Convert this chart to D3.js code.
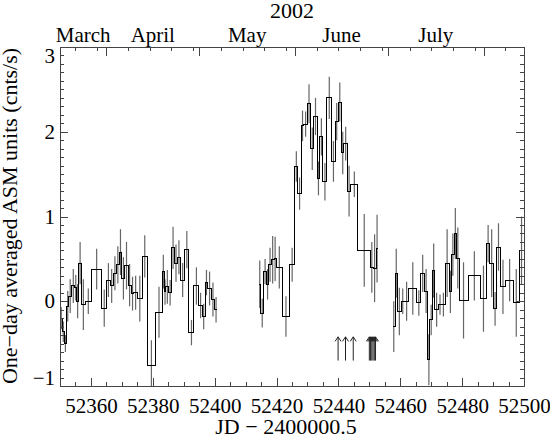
<!DOCTYPE html>
<html>
<head>
<meta charset="utf-8">
<script src="https://cdn.jsdelivr.net/npm/d3@7"></script>
<style>
  body { margin: 0; background: #fff; }
  text { font-family: "Liberation Serif", "DejaVu Serif", serif; fill: #000; }
</style>
</head>
<body>
<div class="root"></div>
<script>
// one-day averaged ASM rate, drawn as steps: bin edges (MJD), rate, 1-sigma error
var seg1Edges = [52350.0, 52350.8, 52351.3, 52352.2, 52352.8, 52353.8, 52354.8, 52355.4, 52356.0, 52357.0,
  52358.1, 52360.2, 52363.5, 52365.1, 52366.2, 52367.2, 52368.3, 52369.1, 52370.0, 52371.0, 52372.0,
  52373.0, 52373.9, 52375.0, 52376.6, 52378.2, 52380.9, 52383.1, 52383.7, 52384.2, 52385.2, 52386.0,
  52387.1, 52387.9, 52389.0, 52390.3, 52391.7, 52393.3, 52394.9, 52396.0, 52396.9, 52397.8, 52398.9,
  52400.0, 52400.9];
var seg1Rate = [-0.20, -0.36, -0.50, -0.06, 0.06, 0.18, 0.16, 0.00, 0.45, -0.04, 0.00, 0.38, -0.08, 0.25,
  0.18, 0.33, 0.43, 0.58, 0.27, 0.42, 0.19, 0.09, 0.10, 0.03, 0.53, -0.76, -0.13, 0.35, 0.11, 0.17, 0.10,
  0.63, 0.45, 0.52, 0.25, 0.61, -0.37, 0.18, -0.05, -0.18, 0.22, 0.15, 0.02, -0.10];
var seg1Err = [0.13, 0.12, 0.10, 0.18, 0.20, 0.20, 0.15, 0.20, 0.25, 0.30, 0.15, 0.24, 0.22, 0.20, 0.20,
  0.20, 0.22, 0.27, 0.25, 0.28, 0.25, 0.20, 0.20, 0.27, 0.25, 0.30, 0.30, 0.20, 0.15, 0.20, 0.15, 0.25,
  0.22, 0.20, 0.20, 0.22, 0.15, 0.22, 0.15, 0.15, 0.15, 0.20, 0.20, 0.15];

var seg2Edges = [52414.3, 52414.85, 52415.9, 52416.7, 52417.5, 52418.3, 52419.2, 52419.9, 52421.9, 52424.2,
  52425.9, 52426.9, 52428.0, 52428.8, 52430.0, 52431.0, 52432.1, 52433.1, 52434.0, 52435.0, 52436.3,
  52437.8, 52439.0, 52439.9, 52441.0, 52441.8, 52442.9, 52444.0, 52446.3, 52450.4, 52451.2, 52452.2,
  52452.8];
var seg2Rate = [0.20, -0.14, 0.35, 0.20, 0.43, 0.49, 0.50, 0.40, -0.18, 0.43, 1.59, 1.27, 2.07, 2.09, 2.33,
  1.80, 2.18, 1.45, 1.94, 1.41, 2.40, 1.65, 2.12, 2.35, 1.75, 1.86, 1.30, 1.38, 0.60, 0.40, 0.39, 0.62];
var seg2Err = [0.28, 0.17, 0.15, 0.18, 0.20, 0.28, 0.26, 0.25, 0.24, 0.20, 0.18, 0.19, 0.18, 0.15, 0.23,
  0.25, 0.22, 0.20, 0.22, 0.22, 0.25, 0.24, 0.22, 0.23, 0.25, 0.20, 0.30, 0.15, 0.43, 0.30, 0.40, 0.40];

var seg3Edges = [52457.5, 52458.3, 52459.1, 52460.3, 52461.3, 52462.8, 52465.3, 52466.7, 52467.8, 52468.9,
  52469.6, 52470.4, 52471.2, 52472.3, 52473.4, 52474.5, 52475.8, 52476.6, 52477.4, 52478.2, 52479.0,
  52481.9, 52486.0, 52487.8, 52489.0, 52490.1, 52491.2, 52492.3, 52494.1, 52496.6, 52498.4, 52500.0];
var seg3Rate = [-0.30, 0.33, -0.12, 0.00, 0.00, 0.15, -0.02, 0.33, 0.12, -0.69, -0.22, 0.36, -0.10, -0.04,
  -0.04, 0.45, 0.11, 0.55, 0.80, 0.51, 0.01, 0.30, 0.03, 0.68, 0.45, -0.09, 0.64, 0.17, 0.25, -0.02, 0.60];
var seg3Err = [0.30, 0.29, 0.28, 0.15, 0.23, 0.31, 0.15, 0.22, 0.26, 0.30, 0.18, 0.32, 0.20, 0.12, 0.14,
  0.40, 0.25, 0.25, 0.30, 0.36, 0.45, 0.29, 0.39, 0.22, 0.40, 0.20, 0.28, 0.32, 0.25, 0.40, 0.40];

// times marked with arrows below the light curve
var arrowTimes = [52439.9, 52442.3, 52444.8, 52450.0, 52450.4, 52450.8, 52451.2, 52451.6, 52452.0];
var arrowTip = -0.42, arrowBase = -0.70;

var xDomain = [52350, 52500];
var yDomain = [-1, 3];
var xMajorTicks = [52360, 52380, 52400, 52420, 52440, 52460, 52480, 52500];
var yMajorTicks = [-1, 0, 1, 2, 3];
var monthNames = ['March', 'April', 'May', 'June', 'July'];
var monthIndex = [2, 3, 4, 5, 6];
var year = 2002;

function runChart() {
  var w = 550, h = 436;
  var left = 60, right = 524, top = 47, bottom = 386;

  var svg = d3.select('.root').append('svg')
    .attr('width', w)
    .attr('height', h);

  var x = d3.scaleLinear().domain(xDomain).range([left, right]);
  var y = d3.scaleLinear().domain(yDomain).range([bottom, top]);

  // MJD -> calendar date for the month axis on top
  var mjdZero = Date.UTC(1858, 10, 17);
  function mjdDate(m) { return new Date(mjdZero + m * 864e5); }
  var xt = d3.scaleUtc().domain(xDomain.map(mjdDate)).range([left, right]);

  svg.append('defs').append('clipPath').attr('id', 'plotclip')
    .append('rect')
      .attr('x', left).attr('y', top)
      .attr('width', right - left).attr('height', bottom - top);

  var plot = svg.append('g').attr('clip-path', 'url(#plotclip)');

  var segs = [
    {edges: seg1Edges, rate: seg1Rate, err: seg1Err},
    {edges: seg2Edges, rate: seg2Rate, err: seg2Err},
    {edges: seg3Edges, rate: seg3Rate, err: seg3Err}
  ];

  var step = d3.line()
    .x(function(d) { return x(d[0]); })
    .y(function(d) { return y(d[1]); })
    .curve(d3.curveStepAfter);

  segs.forEach(function(s) {
    var pts = s.rate.map(function(v, i) { return [s.edges[i], v]; });
    pts.push([s.edges[s.edges.length - 1], s.rate[s.rate.length - 1]]);

    var bars = s.rate.map(function(v, i) {
      return {t: (s.edges[i] + s.edges[i + 1]) / 2, v: v, e: s.err[i]};
    });

    plot.append('g').selectAll('line')
      .data(bars)
      .enter().append('line')
        .attr('x1', function(d) { return x(d.t); })
        .attr('x2', function(d) { return x(d.t); })
        .attr('y1', function(d) { return y(d.v - d.e); })
        .attr('y2', function(d) { return y(d.v + d.e); })
        .style('stroke', '#666')
        .style('stroke-width', 1.2);

    plot.append('path')
      .attr('d', step(pts))
      .style('fill', 'none')
      .style('stroke', '#000')
      .style('stroke-width', 1)
      .style('shape-rendering', 'crispEdges');
  });

  // arrows
  var arrows = plot.append('g').selectAll('g')
    .data(arrowTimes)
    .enter().append('g');
  arrows.append('line')
    .attr('x1', function(d) { return x(d); })
    .attr('x2', function(d) { return x(d); })
    .attr('y1', y(arrowBase))
    .attr('y2', y(arrowTip))
    .style('stroke', '#222');
  arrows.append('path')
    .attr('d', function(d) {
      var xa = x(d), ya = y(arrowTip);
      return 'M' + (xa - 3) + ',' + (ya + 4.5) + 'L' + xa + ',' + ya + 'L' + (xa + 3) + ',' + (ya + 4.5);
    })
    .style('fill', 'none')
    .style('stroke', '#222');

  // frame
  svg.append('rect')
    .attr('x', left).attr('y', top)
    .attr('width', right - left).attr('height', bottom - top)
    .style('fill', 'none')
    .style('stroke', '#444')
    .style('shape-rendering', 'crispEdges');

  function styleAxis(g) {
    g.select('.domain').remove();
    g.selectAll('line').style('stroke', '#444').style('shape-rendering', 'crispEdges');
    g.selectAll('text').style('font-family', '"Liberation Serif", serif').style('font-size', '21px').attr('fill', '#000');
  }

  // bottom axis: major (labelled) every 20 days, minor every 5
  svg.append('g')
    .attr('transform', 'translate(0,' + bottom + ')')
    .call(d3.axisBottom(x).tickValues(d3.range(xDomain[0], xDomain[1] + 1, 5))
      .tickSize(-4).tickFormat(''))
    .call(styleAxis);
  svg.append('g')
    .attr('transform', 'translate(0,' + bottom + ')')
    .call(d3.axisBottom(x).tickValues(xMajorTicks).tickSize(-8).tickPadding(12)
      .tickFormat(d3.format('d')))
    .call(styleAxis);

  // left / right axes: major at integers, minor every 0.1
  var yMinor = d3.range(yDomain[0] * 10, yDomain[1] * 10 + 1).map(function(d) { return d / 10; });
  svg.append('g')
    .attr('transform', 'translate(' + left + ',0)')
    .call(d3.axisLeft(y).tickValues(yMinor).tickSize(-4).tickFormat(''))
    .call(styleAxis);
  var yl = svg.append('g')
    .attr('transform', 'translate(' + left + ',0)')
    .call(d3.axisLeft(y).tickValues(yMajorTicks).tickSize(-8).tickPadding(5)
      .tickFormat(d3.format('d')))
    .call(styleAxis);
  yl.selectAll('text')
    .attr('dy', function(d) { return d === yDomain[1] ? '0.72em' : (d === yDomain[0] ? '-0.05em' : '0.32em'); });

  svg.append('g')
    .attr('transform', 'translate(' + right + ',0)')
    .call(d3.axisRight(y).tickValues(yMinor).tickSize(-4).tickFormat(''))
    .call(styleAxis);
  svg.append('g')
    .attr('transform', 'translate(' + right + ',0)')
    .call(d3.axisRight(y).tickValues(yMajorTicks).tickSize(-8).tickFormat(''))
    .call(styleAxis);

  // top axis: month starts (long) and the 8th, 15th, 22nd, 29th (short)
  var d0 = mjdDate(xDomain[0]), d1 = mjdDate(xDomain[1]);
  var monthStarts = d3.utcMonth.range(d0, d1);
  var weekDays = d3.utcDay.range(d0, d1).filter(function(d) {
    return [8, 15, 22, 29].indexOf(d.getUTCDate()) >= 0;
  });
  svg.append('g')
    .attr('transform', 'translate(0,' + top + ')')
    .call(d3.axisTop(xt).tickValues(weekDays).tickSize(-4).tickFormat(''))
    .call(styleAxis);
  svg.append('g')
    .attr('transform', 'translate(0,' + top + ')')
    .call(d3.axisTop(xt).tickValues(monthStarts).tickSize(-9).tickFormat(''))
    .call(styleAxis);

  // month names at the middle of the visible part of each month
  svg.append('g').selectAll('text')
    .data(monthNames)
    .enter().append('text')
      .attr('x', function(d, i) {
        var a = Math.max(Date.UTC(year, monthIndex[i], 1), +d0);
        var b = Math.min(Date.UTC(year, monthIndex[i] + 1, 1), +d1);
        return xt(new Date((a + b) / 2));
      })
      .attr('y', 41.5)
      .attr('text-anchor', 'middle')
      .style('font-size', '21px')
      .text(function(d) { return d; });

  svg.append('text')
    .attr('x', (left + right) / 2)
    .attr('y', 18)
    .attr('text-anchor', 'middle')
    .style('font-size', '22px')
    .text(String(year));

  svg.append('text')
    .attr('x', 286)
    .attr('y', 434)
    .attr('text-anchor', 'middle')
    .style('font-size', '22px')
    .text('JD \u2212 2400000.5');

  svg.append('text')
    .attr('transform', 'translate(17,216) rotate(-90)')
    .attr('text-anchor', 'middle')
    .style('font-size', '22px')
    .text('One\u2212day averaged ASM units (cnts/s)');
}

window.onload = function() {
  runChart();
};
</script>
</body>
</html>
